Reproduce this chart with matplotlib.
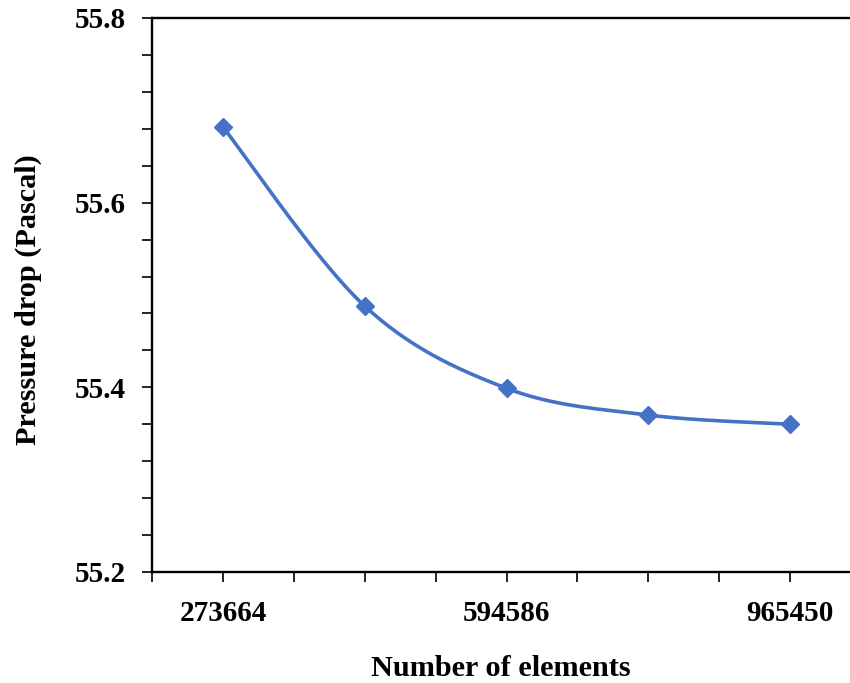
import numpy as np
from matplotlib import pyplot as plt
from matplotlib.ticker import MultipleLocator

# Mesh independence data (category axis, equally spaced)
tickLabels = ["273664", "", "594586", "", "965450"]
pressureDrop = [55.682, 55.488, 55.399, 55.370, 55.360]

# Excel-like smoothed line (Catmull-Rom with Bezier segments)
def smoothCurve(xs, ys, steps=40):
    pts = np.column_stack([xs, ys]).astype(float)
    n = len(pts)
    out = []
    for i in range(n - 1):
        p0 = pts[i - 1] if i > 0 else pts[i]
        p1 = pts[i]
        p2 = pts[i + 1]
        p3 = pts[i + 2] if i + 2 < n else pts[i + 1]
        c1 = p1 + (p2 - p0) / 6.0
        c2 = p2 - (p3 - p1) / 6.0
        t = np.linspace(0, 1, steps)[:, None]
        seg = ((1 - t) ** 3) * p1 + 3 * ((1 - t) ** 2) * t * c1 + 3 * (1 - t) * t ** 2 * c2 + t ** 3 * p2
        out.append(seg)
    curve = np.vstack(out)
    return curve[:, 0], curve[:, 1]

plt.rcParams['font.family'] = 'Liberation Serif'
plt.rcParams['font.weight'] = 'bold'

fig = plt.figure(figsize=(8.5, 6.83), dpi=100)
ax = fig.add_axes([152 / 850, 1 - 572 / 683, (861 - 152) / 850, (572 - 18) / 683])

xs = np.arange(len(pressureDrop))
cx, cy = smoothCurve(xs, pressureDrop)
ax.plot(cx, cy, color='#4472C4', linewidth=2.6, solid_capstyle='round', clip_on=False)
ax.plot(xs, pressureDrop, linestyle='none', marker='D', markersize=9,
        color='#4472C4', clip_on=False)

ax.set_xlim(-0.5, 4.5)
ax.set_ylim(55.2, 55.8)

ax.set_xticks(np.arange(-0.5, 4.51, 0.5), minor=False)
xlabels = []
for v in np.arange(-0.5, 4.51, 0.5):
    if float(v).is_integer():
        xlabels.append(tickLabels[int(v)])
    else:
        xlabels.append("")
ax.set_xticklabels(xlabels, fontsize=21, fontweight='bold')

ax.yaxis.set_major_locator(MultipleLocator(0.2))
ax.yaxis.set_minor_locator(MultipleLocator(0.04))
ax.set_yticklabels([f"{v:.1f}" for v in ax.get_yticks()], fontsize=21, fontweight='bold')

ax.tick_params(axis='both', which='both', direction='out', length=7, width=1.2, color='black')
ax.tick_params(axis='x', pad=13)
ax.tick_params(axis='y', pad=12)

for s in ['left', 'bottom', 'top']:
    ax.spines[s].set_linewidth(1.7)
ax.spines['right'].set_visible(False)

fig.text(28 / 850, 1 - 300 / 683, 'Pressure drop (Pascal)', rotation=90,
         ha='center', va='center', fontsize=21.8, fontweight='bold')
fig.text(501 / 850, 1 - 668 / 683, 'Number of elements',
         ha='center', va='center', fontsize=21.8, fontweight='bold')

plt.savefig("out.png", dpi=100)
